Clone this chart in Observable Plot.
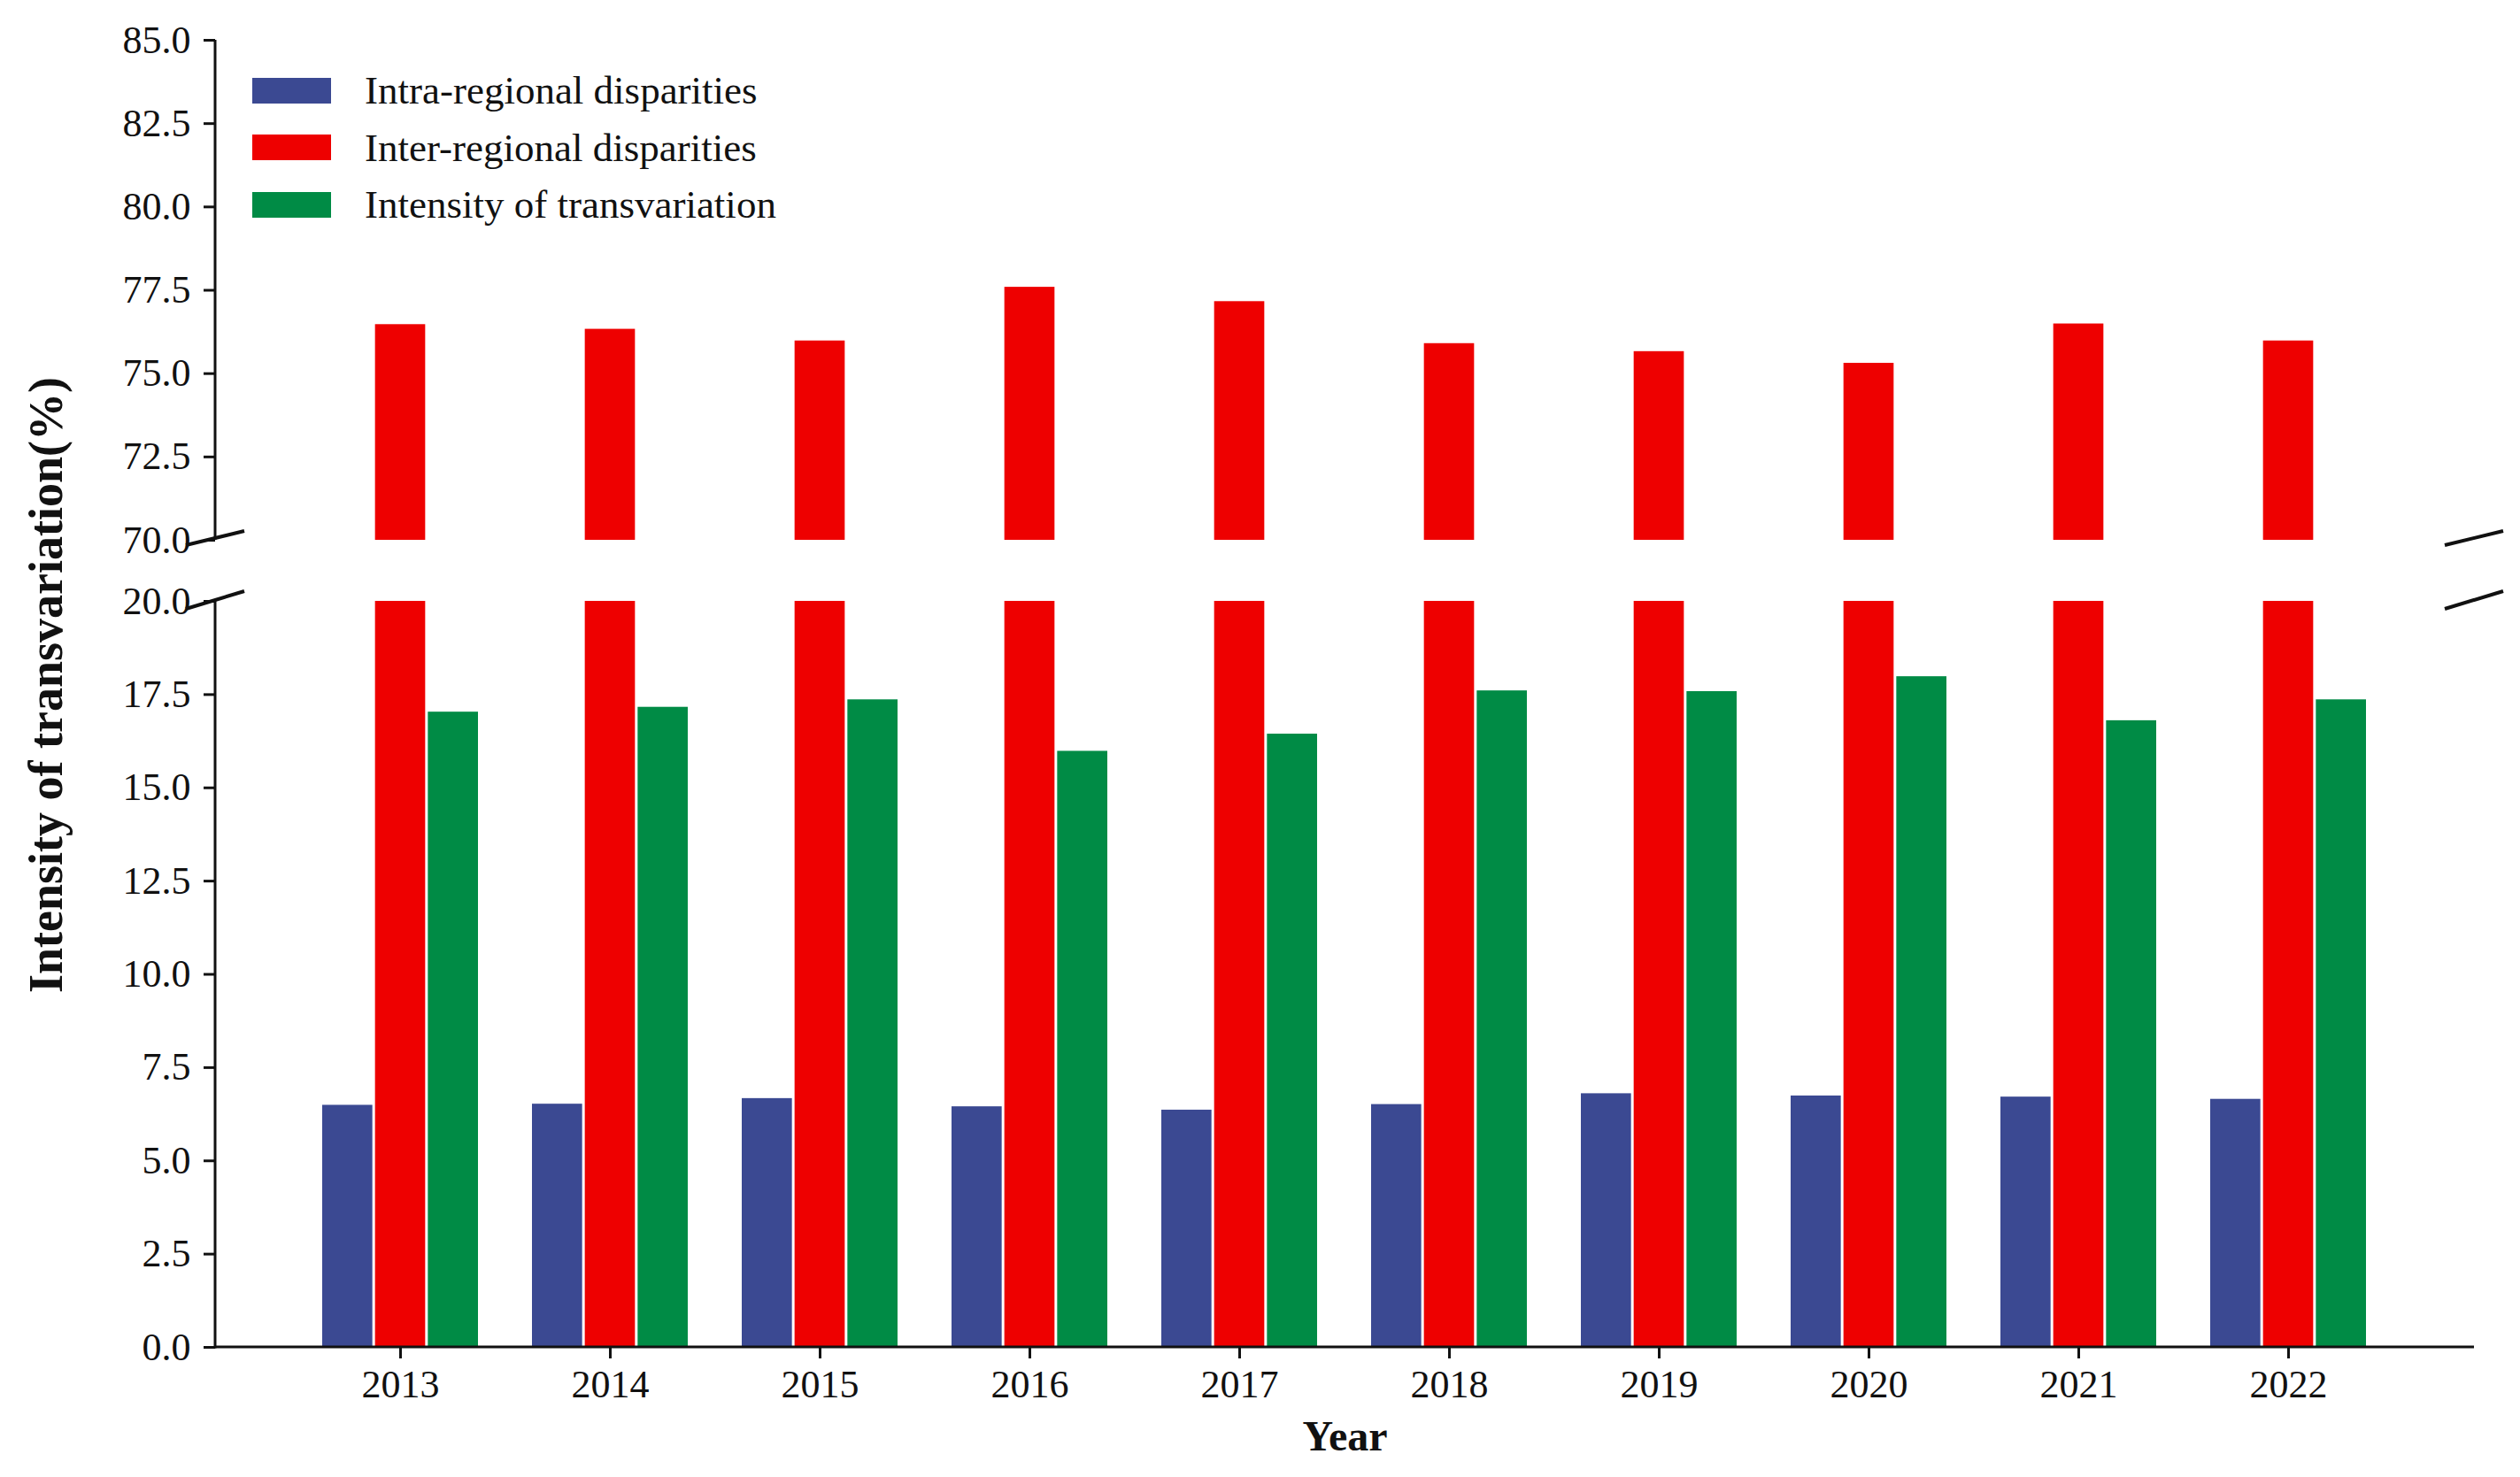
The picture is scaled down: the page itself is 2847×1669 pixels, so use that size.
<!DOCTYPE html>
<html>
<head>
<meta charset="utf-8">
<script src="https://cdn.jsdelivr.net/npm/d3@7"></script>
<script src="https://cdn.jsdelivr.net/npm/@observablehq/plot@0.6"></script>
<style>
  body { margin: 0; background: #fff; }
  #wrap { position: relative; width: 2847px; height: 1669px; font-family: "Liberation Serif", "Times New Roman", serif; color: #111; }
  #legend { position: absolute; left: 285px; top: 70px; }
  .row { display: flex; align-items: center; height: 64.5px; font-size: 45px; white-space: nowrap; }
  .sw { width: 89px; height: 29px; margin-right: 38px; }
</style>
</head>
<body>
<div id="wrap">
  <div id="chart"></div>
  <div id="legend"></div>
</div>
<script>
// ---- data ----
const years = [2013, 2014, 2015, 2016, 2017, 2018, 2019, 2020, 2021, 2022];
const seriesNames = ["Intra-regional disparities", "Inter-regional disparities", "Intensity of transvariation"];
const intra = [6.49, 6.52, 6.67, 6.45, 6.36, 6.51, 6.80, 6.74, 6.71, 6.65];
const inter = [76.47, 76.33, 75.98, 77.59, 77.16, 75.90, 75.66, 75.31, 76.49, 75.98];
const trans = [17.03, 17.16, 17.36, 15.98, 16.44, 17.60, 17.58, 17.98, 16.80, 17.36];
const colors = ["#3B4992", "#EE0000", "#008B45"];
const lowerTicks = [0, 2.5, 5, 7.5, 10, 12.5, 15, 17.5, 20];
const upperTicks = [70, 72.5, 75, 77.5, 80, 82.5, 85];
const breakLow = 20, breakHigh = 70;
const xTitle = "Year";
const yTitle = "Intensity of transvariation(%)";

// ---- layout ----
const W = 2847, H = 1669;
const mL = 243, mR = 52, mT = 45, mB = 147;
const padIn = 0.2476, padOut = 0.487;
const step = (W - mL - mR) / (years.length - padIn + 2 * padOut);
const bw = step * (1 - padIn);
const slot = bw / 3;
const gap = 1;
const yRange = [H - mB, 679, 610, mT];

const rows = years.map((year, i) => ({year, intra: intra[i], inter: inter[i], trans: trans[i]}));

function spines(index, scales, values, dims) {
  const {y} = scales;
  const L = dims.marginLeft, R = dims.width - dims.marginRight;
  const g = d3.create("svg:g").attr("stroke", "#111").attr("fill", "none");
  const yMin = d3.min(lowerTicks), yMax = d3.max(upperTicks);
  g.append("line").attr("x1", L).attr("x2", L).attr("y1", y(yMin) + 1.5).attr("y2", y(breakLow)).attr("stroke-width", 3);
  g.append("line").attr("x1", L).attr("x2", L).attr("y1", y(breakHigh)).attr("y2", y(yMax)).attr("stroke-width", 3);
  g.append("line").attr("x1", L).attr("x2", R).attr("y1", y(yMin)).attr("y2", y(yMin)).attr("stroke-width", 3);
  for (const cx of [L, R]) {
    for (const [v, off, s] of [[breakHigh, -2, 8], [breakLow, -1, 10]]) {
      const cy = y(v) + off;
      g.append("line").attr("x1", cx - 33).attr("y1", cy + s).attr("x2", cx + 33).attr("y2", cy - s).attr("stroke-width", 4);
    }
  }
  return g.node();
}

const chart = Plot.plot({
  width: W,
  height: H,
  marginLeft: mL,
  marginRight: mR,
  marginTop: mT,
  marginBottom: mB,
  style: {fontFamily: '"Liberation Serif", "Times New Roman", serif', color: "#111", background: "white", overflow: "visible"},
  x: {type: "band", domain: years, paddingInner: padIn, paddingOuter: padOut, align: 0.5},
  y: {type: "linear", domain: [0, breakLow, breakHigh, 85], range: yRange},
  marks: [
    Plot.barY(rows, {x: "year", y1: 0, y2: "intra", fill: colors[0], insetLeft: gap, insetRight: bw - slot + gap}),
    Plot.barY(rows, {x: "year", y1: 0, y2: d => Math.min(d.inter, breakLow), fill: colors[1], insetLeft: slot + gap, insetRight: slot + gap}),
    Plot.barY(rows, {x: "year", y1: breakHigh, y2: "inter", fill: colors[1], insetLeft: slot + gap, insetRight: slot + gap}),
    Plot.barY(rows, {x: "year", y1: 0, y2: "trans", fill: colors[2], insetLeft: 2 * slot + gap, insetRight: gap}),
    Plot.axisY({ticks: [...lowerTicks, ...upperTicks], tickFormat: d3.format(".1f"), tickSize: 13, tickPadding: 15, fontSize: 44, strokeWidth: 3, label: null}),
    Plot.axisX({tickSize: 13, tickPadding: 12, fontSize: 44, strokeWidth: 3, label: null, tickFormat: d => String(d)}),
    spines,
    Plot.text([xTitle], {frameAnchor: "bottom", dy: 101, fontSize: 48, fontWeight: "bold", textAnchor: "middle", lineAnchor: "middle"}),
    Plot.text([yTitle], {frameAnchor: "left", dx: -191, dy: -10, rotate: -90, fontSize: 54, fontWeight: "bold", textAnchor: "middle", lineAnchor: "middle"})
  ]
});
document.getElementById("chart").appendChild(chart);

const legend = d3.select("#legend");
seriesNames.forEach((name, i) => {
  const row = legend.append("div").attr("class", "row");
  row.append("div").attr("class", "sw").style("background", colors[i]);
  row.append("span").text(name);
});
</script>
</body>
</html>
